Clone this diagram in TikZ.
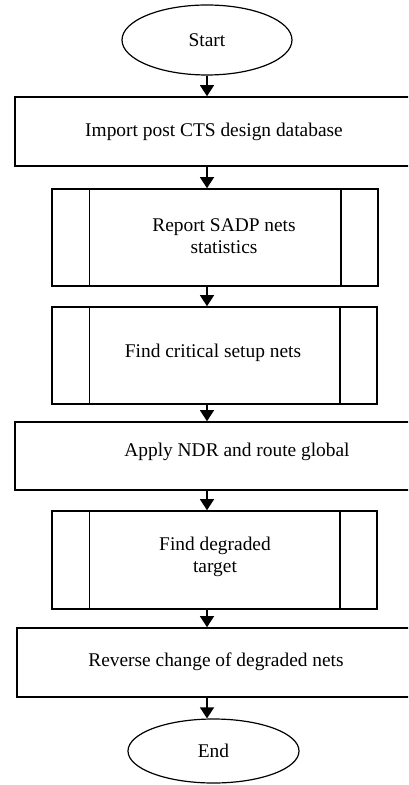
\documentclass[tikz,border=0pt]{standalone}
\usepackage{fontspec}
\setmainfont{Liberation Serif}
\usetikzlibrary{arrows.meta, positioning, shapes.geometric, fit}

\begin{document}
\begin{tikzpicture}[
  x=0.5pt, y=-0.5pt,
  box/.style={draw, line width=0.8pt, inner sep=0pt},
  term/.style={draw, ellipse, line width=0.6pt, inner sep=0pt,
    font=\fontsize{9.7}{11}\selectfont},
  txt/.style={font=\fontsize{9.7}{11}\selectfont, align=center, inner sep=0pt},
  flow/.style={-{Triangle[length=5.5pt, width=7pt]}, line width=0.6pt},
  side/.style={line width=0.7pt},
]
  \clip (0,0) rectangle (408,785);

  % terminals
  \node[term, minimum width=85pt, minimum height=35pt] (start) at (207,40) {Start};
  \node[term, minimum width=85.5pt, minimum height=32pt] (end) at (213.5,751) {End};

  % process boxes (1, 4, 6 run past the right edge)
  \node[box, fit={(15,97) (420,166)}]  (b1) {};
  \node[box, fit={(52,189) (378,286)}] (b2) {};
  \node[box, fit={(52,307) (377,404)}] (b3) {};
  \node[box, fit={(15,422) (420,490)}] (b4) {};
  \node[box, fit={(52,511) (377,609)}] (b5) {};
  \node[box, fit={(17,628) (420,697)}] (b6) {};

  % side bars of the predefined steps
  \foreach \b in {b2,b3,b5} {
    \draw[side] ([xshift=19pt]\b.north west) -- ([xshift=19pt]\b.south west);
    \draw[side] ([xshift=-19pt]\b.north east) -- ([xshift=-19pt]\b.south east);
  }

  % texts
  \node[txt] (t1) at (214,132) {Import post CTS design database};
  \node[txt] (t2) at (224,236) {Report SADP nets\\statistics};
  \node[txt] (t3) at (213,353) {Find critical setup nets};
  \node[txt] (t4) at (237,452) {Apply NDR and route global};
  \node[txt] (t5) at (215,557) {Find degraded\\target};
  \node[txt] (t6) at (216,662) {Reverse change of degraded nets};

  % arrows
  \coordinate (ax) at (207,0);
  \draw[flow] (start.south) -- (ax |- b1.north);
  \draw[flow] (ax |- b1.south) -- (ax |- b2.north);
  \draw[flow] (ax |- b2.south) -- (ax |- b3.north);
  \draw[flow] (ax |- b3.south) -- (ax |- b4.north);
  \draw[flow] (ax |- b4.south) -- (ax |- b5.north);
  \draw[flow] (ax |- b5.south) -- (ax |- b6.north);
  \draw[flow] (ax |- b6.south) -- (ax |- end.north);
\end{tikzpicture}
\end{document}
